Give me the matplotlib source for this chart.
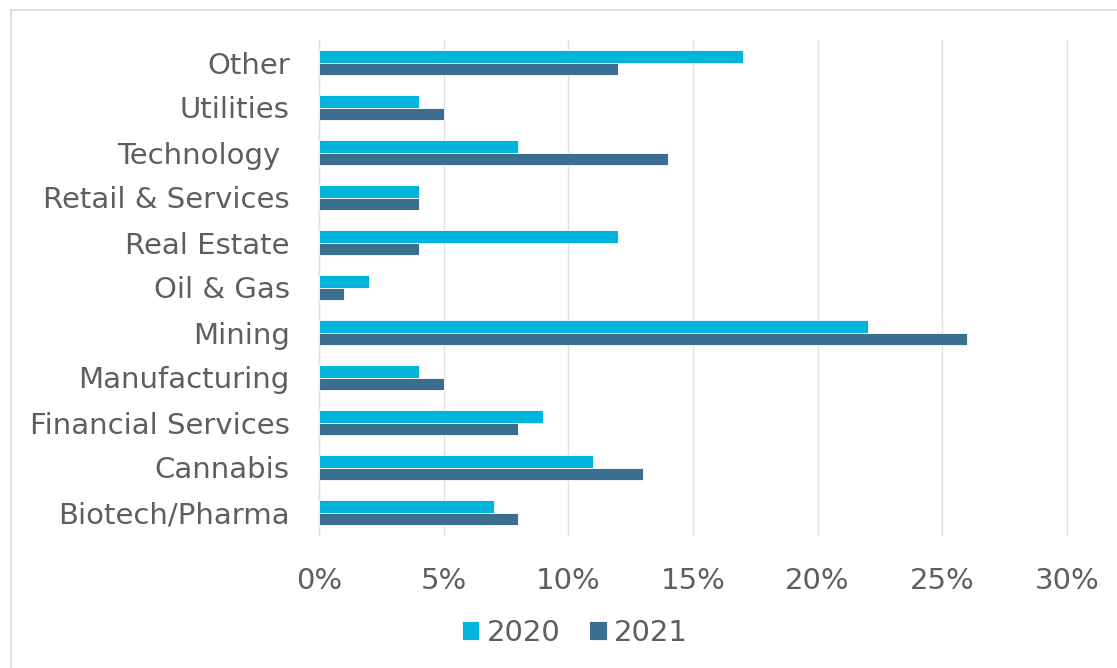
"""Sector share by year, horizontal grouped bars."""

import matplotlib.pyplot as plt
import numpy as np
from matplotlib.patches import Rectangle
from matplotlib.ticker import FuncFormatter

sectors = [
    "Biotech/Pharma", "Cannabis", "Financial Services", "Manufacturing",
    "Mining", "Oil & Gas", "Real Estate", "Retail & Services",
    "Technology ", "Utilities", "Other",
]
share_2020 = [7, 11, 9, 4, 22, 2, 12, 4, 8, 4, 17]
share_2021 = [8, 13, 8, 5, 26, 1, 4, 4, 14, 5, 12]
years = ["2020", "2021"]

c2020 = "#00B4DC"
c2021 = "#3B6E8F"
text_c = "#5E5E5E"
line_c = "#E0E0E0"

plt.rcParams["font.family"] = ["DejaVu Sans"]

fig = plt.figure(figsize=(11.17, 6.68), dpi=100)
ax = fig.add_axes([319 / 1117, 1 - 535 / 668, (1067 - 319) / 1117, 495 / 668])

# 外枠
fig.patches.append(Rectangle((11 / 1117, -0.01), 1.0, 1 - 10 / 668 + 0.01,
                             transform=fig.transFigure, fill=False,
                             edgecolor="#D9D9D9", linewidth=1.2))

y = np.arange(len(sectors))
h = 0.27
ax.barh(y + h / 2, share_2020, height=h, color=c2020, edgecolor="white",
        linewidth=0.6, label=years[0], zorder=3)
ax.barh(y - h / 2, share_2021, height=h, color=c2021, edgecolor="white",
        linewidth=0.6, label=years[1], zorder=3)

ax.set_xlim(0, 30)
ax.set_ylim(-0.5, len(sectors) - 0.5)
ax.set_xticks(range(0, 31, 5))
ax.xaxis.set_major_formatter(FuncFormatter(lambda v, _: f"{v:.0f}%"))
ax.set_yticks(y)
ax.set_yticklabels(sectors)

ax.grid(axis="x", color=line_c, linewidth=1.0, zorder=0)
for gl in ax.get_xgridlines():
    gl.set_clip_on(False)
for s in ["top", "right", "bottom"]:
    ax.spines[s].set_visible(False)
ax.spines["left"].set_color(line_c)
ax.spines["left"].set_linewidth(1.0)
ax.tick_params(axis="both", length=0, labelsize=21, labelcolor=text_c)
ax.tick_params(axis="y", pad=21)
ax.tick_params(axis="x", pad=23)

leg = fig.legend(loc="center", bbox_to_anchor=(575 / 1117, 1 - 633 / 668),
                 ncol=2, frameon=False, fontsize=21, handlelength=0.6,
                 handleheight=0.6, handletextpad=0.25, columnspacing=1.0)
for t in leg.get_texts():
    t.set_color(text_c)

fig.savefig("out.png", dpi=100)
plt.close(fig)
